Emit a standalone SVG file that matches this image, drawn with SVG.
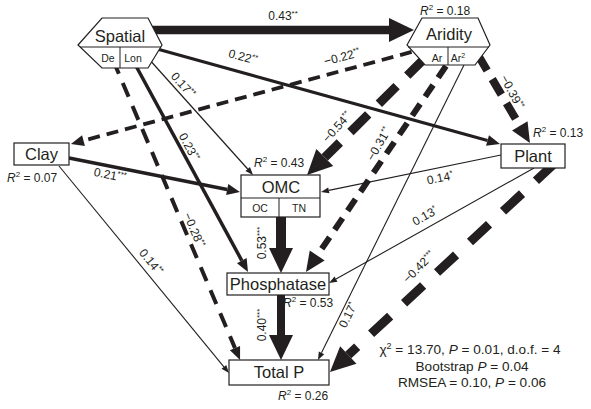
<svg xmlns="http://www.w3.org/2000/svg" width="591" height="409" viewBox="0 0 591 409">
<style>
text{font-family:"Liberation Sans",Arial,sans-serif;fill:#231f20}
.nl{font-size:16.5px;text-anchor:middle}
.sl{font-size:10.5px;text-anchor:middle}
.r2{font-size:12px}
.el{font-size:12px;text-anchor:middle}
.st{font-size:8px}
.box{fill:#fff;stroke:#231f20;stroke-width:1.2}
.div{stroke:#231f20;stroke-width:1}
.c{fill:none;stroke:#231f20}
.stats{font-size:13.6px;text-anchor:middle}
</style>
<defs>
<marker id="hs" markerUnits="userSpaceOnUse" markerWidth="8" markerHeight="6" refX="0" refY="3" orient="auto" overflow="visible"><path d="M0,0L8,3L0,6z" fill="#231f20"/></marker>
<marker id="hm" markerUnits="userSpaceOnUse" markerWidth="13" markerHeight="11" refX="0" refY="5.5" orient="auto" overflow="visible"><path d="M0,0L13,5.5L0,11z" fill="#231f20"/></marker>
<marker id="hml" markerUnits="userSpaceOnUse" markerWidth="20" markerHeight="18" refX="0" refY="9" orient="auto" overflow="visible"><path d="M0,0L20,9L0,18z" fill="#231f20"/></marker>
<marker id="hl" markerUnits="userSpaceOnUse" markerWidth="25" markerHeight="24" refX="0" refY="12" orient="auto" overflow="visible"><path d="M0,0L25,12L0,24z" fill="#231f20"/></marker>
</defs>
<rect width="591" height="409" fill="#fff"/>
<g id="connectors">
<line class="c" x1="150" y1="30" x2="389" y2="30" stroke-width="8.5" marker-end="url(#hl)"/>
<line class="c" x1="150" y1="47" x2="487.5" y2="140.5" stroke-width="3.2" marker-end="url(#hm)"/>
<line class="c" x1="430" y1="47" x2="83.5" y2="140.6" stroke-width="3.8" stroke-dasharray="12 7" marker-end="url(#hm)"/>
<line class="c" x1="113" y1="60" x2="235" y2="348.1" stroke-width="4" stroke-dasharray="15 10" marker-end="url(#hm)"/>
<line class="c" x1="136" y1="66" x2="241.8" y2="260.6" stroke-width="3.5" marker-end="url(#hm)"/>
<line class="c" x1="148" y1="58" x2="247.7" y2="169" stroke-width="1.2" marker-end="url(#hs)"/>
<line class="c" x1="69" y1="158" x2="227.2" y2="189.5" stroke-width="3.5" marker-end="url(#hm)"/>
<line class="c" x1="59" y1="166" x2="223.9" y2="366.8" stroke-width="1.1" marker-end="url(#hs)"/>
<line class="c" x1="425" y1="58" x2="324.8" y2="157.4" stroke-width="9" stroke-dasharray="25 15" marker-end="url(#hl)"/>
<line class="c" x1="446" y1="66" x2="317.2" y2="255.5" stroke-width="6" stroke-dasharray="14 9" marker-end="url(#hml)"/>
<line class="c" x1="464" y1="65" x2="321.5" y2="352.8" stroke-width="1.1" marker-end="url(#hs)"/>
<line class="c" x1="478" y1="55" x2="519.8" y2="125.8" stroke-width="8" stroke-dasharray="18 10" marker-end="url(#hml)"/>
<line class="c" x1="501" y1="155" x2="328.8" y2="190.4" stroke-width="1.1" marker-end="url(#hs)"/>
<line class="c" x1="534" y1="168" x2="336" y2="279.1" stroke-width="1.1" marker-end="url(#hs)"/>
<line class="c" x1="555" y1="163" x2="348.3" y2="355" stroke-width="9" stroke-dasharray="26 19" marker-end="url(#hl)"/>
<line class="c" x1="281" y1="217" x2="281" y2="248" stroke-width="10" marker-end="url(#hl)"/>
<line class="c" x1="281" y1="295" x2="281" y2="335" stroke-width="8" marker-end="url(#hl)"/>
</g>
<g id="edge-labels">
<text class="el" transform="translate(283,16)"><tspan x="0" y="4">0.43</tspan><tspan class="st" dy="-4">**</tspan></text>
<text class="el" transform="translate(243,57) rotate(15)"><tspan x="0" y="4">0.22</tspan><tspan class="st" dy="-4">**</tspan></text>
<text class="el" transform="translate(342,57) rotate(-15)"><tspan x="0" y="4">−0.22</tspan><tspan class="st" dy="-4">**</tspan></text>
<text class="el" transform="translate(183,85) rotate(48)"><tspan x="0" y="4">0.17</tspan><tspan class="st" dy="-4">**</tspan></text>
<text class="el" transform="translate(189,147) rotate(62)"><tspan x="0" y="4">0.23</tspan><tspan class="st" dy="-4">**</tspan></text>
<text class="el" transform="translate(337,127) rotate(-48)"><tspan x="0" y="4">−0.54</tspan><tspan class="st" dy="-4">**</tspan></text>
<text class="el" transform="translate(379,144) rotate(-60)"><tspan x="0" y="4">−0.31</tspan><tspan class="st" dy="-4">**</tspan></text>
<text class="el" transform="translate(512,92) rotate(62)"><tspan x="0" y="4">−0.39</tspan><tspan class="st" dy="-4">**</tspan></text>
<text class="el" transform="translate(440,178) rotate(-11)"><tspan x="0" y="4">0.14</tspan><tspan class="st" dy="-4">*</tspan></text>
<text class="el" transform="translate(425,216) rotate(-29)"><tspan x="0" y="4">0.13</tspan><tspan class="st" dy="-4">*</tspan></text>
<text class="el" transform="translate(419,267) rotate(-45)"><tspan x="0" y="4">−0.42</tspan><tspan class="st" dy="-4">***</tspan></text>
<text class="el" transform="translate(348,315) rotate(-64)"><tspan x="0" y="4">0.17</tspan><tspan class="st" dy="-4">*</tspan></text>
<text class="el" transform="translate(110,175) rotate(11)"><tspan x="0" y="4">0.21</tspan><tspan class="st" dy="-4">***</tspan></text>
<text class="el" transform="translate(151,262) rotate(51)"><tspan x="0" y="4">0.14</tspan><tspan class="st" dy="-4">**</tspan></text>
<text class="el" transform="translate(194,230) rotate(67)"><tspan x="0" y="4">−0.28</tspan><tspan class="st" dy="-4">**</tspan></text>
<text class="el" transform="translate(262,243) rotate(-90)"><tspan x="0" y="4">0.53</tspan><tspan class="st" dy="-4">***</tspan></text>
<text class="el" transform="translate(262,325) rotate(-90)"><tspan x="0" y="4">0.40</tspan><tspan class="st" dy="-4">***</tspan></text>
</g>
<g id="spatial">
<polygon class="box" points="78,45 102,18 148,18 162,45 148,68 102,68"/>
<line class="div" x1="80" y1="47" x2="161" y2="47"/>
<line class="div" x1="120" y1="47" x2="120" y2="68"/>
<text class="nl" x="120" y="42">Spatial</text>
<text class="sl" x="108" y="62">De</text>
<text class="sl" x="133" y="62">Lon</text>
</g>
<g id="aridity">
<polygon class="box" points="407,45 422,18 478,18 490,45 475,65 425,65"/>
<line class="div" x1="408" y1="47" x2="489" y2="47"/>
<line class="div" x1="448" y1="47" x2="448" y2="65"/>
<text class="nl" x="449" y="40">Aridity</text>
<text class="sl" x="437" y="62">Ar</text>
<text class="sl" x="458" y="62">Ar<tspan font-size="7" dy="-4">2</tspan></text>
<text class="r2" x="420" y="15"><tspan font-style="italic">R</tspan><tspan font-size="8" dy="-5">2</tspan><tspan dy="5"> = 0.18</tspan></text>
</g>
<g id="clay">
<rect class="box" x="14" y="143" width="55" height="22"/>
<text class="nl" x="41.5" y="160">Clay</text>
<text class="r2" x="7" y="182"><tspan font-style="italic">R</tspan><tspan font-size="8" dy="-5">2</tspan><tspan dy="5"> = 0.07</tspan></text>
</g>
<g id="omc">
<rect class="box" x="241" y="175" width="79" height="42"/>
<line class="div" x1="241" y1="198" x2="320" y2="198"/>
<line class="div" x1="279" y1="198" x2="279" y2="217"/>
<text class="nl" x="281" y="193">OMC</text>
<text class="sl" x="260" y="212">OC</text>
<text class="sl" x="299" y="212">TN</text>
<text class="r2" x="254" y="167"><tspan font-style="italic">R</tspan><tspan font-size="8" dy="-5">2</tspan><tspan dy="5"> = 0.43</tspan></text>
</g>
<g id="plant">
<rect class="box" x="501" y="144" width="64" height="24"/>
<text class="nl" x="533" y="162">Plant</text>
<text class="r2" x="533" y="137"><tspan font-style="italic">R</tspan><tspan font-size="8" dy="-5">2</tspan><tspan dy="5"> = 0.13</tspan></text>
</g>
<g id="phosphatase">
<rect class="box" x="227" y="273" width="102" height="22"/>
<text class="nl" x="278" y="290">Phosphatase</text>
<text class="r2" x="283" y="307"><tspan font-style="italic">R</tspan><tspan font-size="8" dy="-5">2</tspan><tspan dy="5"> = 0.53</tspan></text>
</g>
<g id="totalp">
<rect class="box" x="229" y="360" width="100" height="25"/>
<text class="nl" x="279" y="378">Total P</text>
<text class="r2" x="278" y="400"><tspan font-style="italic">R</tspan><tspan font-size="8" dy="-5">2</tspan><tspan dy="5"> = 0.26</tspan></text>
</g>
<g id="fit-stats">
<text class="stats" x="470" y="354">χ<tspan font-size="9" dy="-5">2</tspan><tspan dy="5"> = 13.70, </tspan><tspan font-style="italic">P</tspan> = 0.01, d.o.f. = 4</text>
<text class="stats" x="472" y="370.5">Bootstrap <tspan font-style="italic">P</tspan> = 0.04</text>
<text class="stats" x="472" y="387">RMSEA = 0.10, <tspan font-style="italic">P</tspan> = 0.06</text>
</g>
</svg>
